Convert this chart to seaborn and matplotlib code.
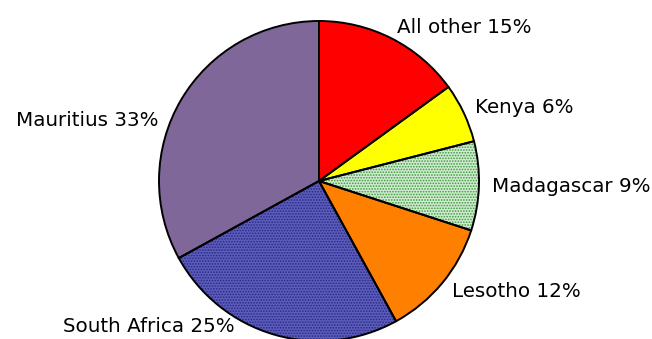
import matplotlib
matplotlib.use("Agg")
import matplotlib.pyplot as plt
import seaborn as sns

countries = ["All other", "Kenya", "Madagascar", "Lesotho", "South Africa", "Mauritius"]
shares = [15, 6, 9, 12, 25, 33]
colors = ["#FF0000", "#FFFF00", "#D0ECD0", "#FF8000", "#5C5CBC", "#7F6799"]
hatch_colors = [None, None, "#3C963C", None, "#2A2A84", None]

sns.set_theme(style="white")
plt.rcParams["font.family"] = ["DejaVu Sans"]
plt.rcParams["hatch.linewidth"] = 0.8

fig = plt.figure(figsize=(6.52, 3.39), dpi=100)
ax = fig.add_axes([0, 0, 1, 1])

labels = [f"{c} {s}%" for c, s in zip(countries, shares)]
wedges, texts = ax.pie(shares, labels=labels, colors=colors, startangle=90,
                       counterclock=False, radius=1, labeldistance=1.08,
                       wedgeprops=dict(linewidth=0),
                       textprops=dict(fontsize=14.3, color="black"))
for w, hc in zip(wedges, hatch_colors):
    if hc:
        w.set_hatch("......")
        w.set_edgecolor(hc)

# outline on top
ax.pie(shares, startangle=90, counterclock=False, radius=1,
       wedgeprops=dict(fill=False, edgecolor="black", linewidth=1.4))

# manual label spots for the two left slices
texts[4].set_position((-0.525, -0.91))
texts[4].set_ha("right")
texts[5].set_position((-1.006, 0.38))
texts[5].set_ha("right")

ax.set_xlim(-319 / 160, 333 / 160)
ax.set_ylim(-158 / 160, 181 / 160)
ax.set_aspect("equal")
ax.axis("off")

fig.savefig("out.png", dpi=100)
